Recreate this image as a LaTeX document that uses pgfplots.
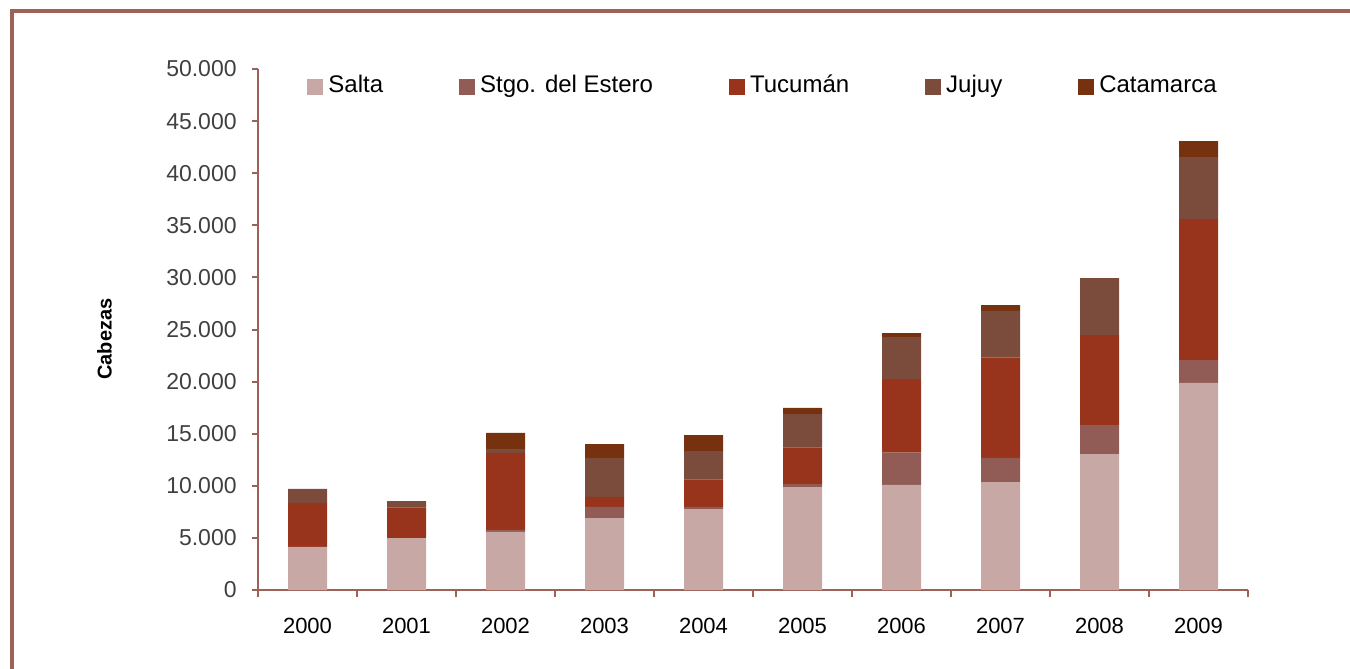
\documentclass[border=0pt]{standalone}
\usepackage{pgfplots}
\pgfplotsset{compat=1.18}
\usepackage{pgfplotstable}
\usepackage{fontspec}
\setmainfont{Liberation Sans}
\definecolor{cSalta}{HTML}{C8A8A5}
\definecolor{cStgo}{HTML}{905C55}
\definecolor{cTuc}{HTML}{98341C}
\definecolor{cJuj}{HTML}{7B4C3C}
\definecolor{cCat}{HTML}{76320E}
\definecolor{frame}{HTML}{9E6158}
\definecolor{ticktext}{HTML}{404040}

\pgfplotstableread{
x Salta Stgo Tucuman Jujuy Catamarca
0 4130 0 4220 1350 0
1 4990 0 2950 600 0
2 5570 190 7390 380 1540
3 6910 1060 960 3740 1340
4 7770 200 2650 2720 1530
5 9880 290 3520 3200 580
6 10080 3100 7070 4030 380
7 10360 2310 9630 4480 570
8 13050 2780 8640 5470 0
9 19870 2200 13530 5950 1540
}\datatable

\begin{document}
\begin{tikzpicture}
\path[use as bounding box] (0pt,0pt) rectangle (675pt,-334.5pt);
\draw[frame, line width=2pt] (6pt,-5.25pt) -- (675pt,-5.25pt);
\draw[frame, line width=2pt] (6pt,-4.25pt) -- (6pt,-334.5pt);
\begin{axis}[
  at={(129pt,-295pt)}, anchor=south west,
  scale only axis, width=495pt, height=260.5pt,
  ybar stacked, bar width=19.5pt,
  xmin=-0.5, xmax=9.5, ymin=0, ymax=50000,
  enlargelimits=false,
  axis x line*=bottom, axis y line*=left,
  axis line style={frame, line width=1pt},
  every tick/.style={frame, line width=1pt},
  tick align=outside,
  major tick length=3pt, minor tick length=3.5pt,
  xtick={0,...,9},
  xticklabels={2000,2001,2002,2003,2004,2005,2006,2007,2008,2009},
  major x tick style={draw=none},
  minor xtick={-0.5,0.5,...,9.5},
  ytick={0,5000,...,50000},
  scaled y ticks=false,
  /pgf/number format/.cd, 1000 sep={.}, assume math mode=true,
  /pgfplots/.cd,
  yticklabel style={font=\fontsize{11.5}{13}\selectfont, text=ticktext, inner sep=0pt, anchor=east, xshift=-7.5pt},
  xticklabel style={font=\fontsize{11}{13}\selectfont, text=black, inner sep=0pt, anchor=north, yshift=-11pt},
  ylabel={\bfseries Cabezas},
  ylabel style={font=\fontsize{12.3}{14}\selectfont\bfseries},
  every axis y label/.style={at={(-76.75pt,125.5pt)}, rotate=90, anchor=center},
  legend columns=5,
  legend style={draw=none, fill=none, at={(0.0495,0.9655)}, anchor=west, inner sep=0pt,
    font=\fontsize{12}{14}\selectfont,
    /tikz/every odd column/.style={column sep=2.5pt},
    /tikz/every even column/.style={column sep=38pt},
    nodes={inner sep=0pt, text height=8.6pt, text depth=2.6pt}},
  legend image code/.code={\fill[#1] (0pt,-4pt) rectangle (8pt,4pt);},
]
\addplot[fill=cSalta, draw=none] table[x=x, y=Salta] {\datatable};
\addplot[fill=cStgo, draw=none] table[x=x, y=Stgo] {\datatable};
\addplot[fill=cTuc, draw=none] table[x=x, y=Tucuman] {\datatable};
\addplot[fill=cJuj, draw=none] table[x=x, y=Jujuy] {\datatable};
\addplot[fill=cCat, draw=none] table[x=x, y=Catamarca] {\datatable};
\legend{Salta, Stgo. del Estero, Tucumán, Jujuy, Catamarca}
\end{axis}
\end{tikzpicture}
\end{document}
